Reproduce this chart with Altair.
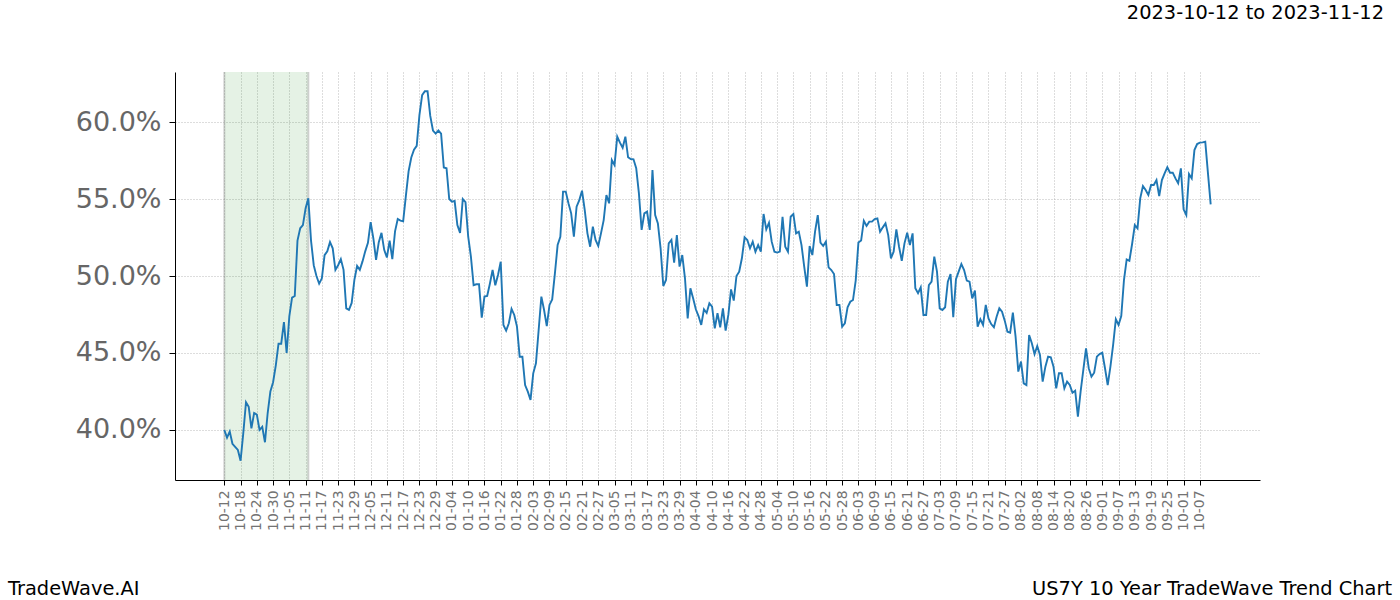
import altair as alt
import pandas as pd

# ---- data (daily values, percent) ----
start_date = "2023-10-12"
values = [
    40.0, 39.5, 39.9, 39.1, 38.9, 38.7, 38.0, 39.8, 41.8, 41.5,
    40.1, 41.1, 41.0, 40.0, 40.2, 39.2, 41.1, 42.5, 43.1, 44.2,
    45.6, 45.6, 47.0, 45.0, 47.4, 48.6, 48.7, 52.3, 53.1, 53.3,
    54.4, 55.05, 52.3, 50.7, 50.0, 49.5, 49.85, 51.35, 51.6, 52.2,
    51.8, 50.4, 50.7, 51.1, 50.4, 47.9, 47.8, 48.25, 49.75, 50.65,
    50.4, 50.95, 51.6, 52.15, 53.5, 52.45, 51.05, 52.2, 52.8, 51.7,
    51.2, 52.3, 51.1, 52.9, 53.7, 53.6, 53.55, 55.2, 56.8, 57.7,
    58.2, 58.45, 60.45, 61.75, 62.0, 62.0, 60.4, 59.45, 59.25, 59.45,
    59.25, 57.05, 57.0, 55.0, 54.83, 54.87, 53.31, 52.8, 55.0, 54.8,
    52.55, 51.26, 49.4, 49.46, 49.46, 47.3, 48.66, 48.7, 49.5, 50.39,
    49.4, 50.07, 50.93, 46.82, 46.45, 46.93, 47.86, 47.47, 46.71, 44.76,
    44.76, 42.92, 42.49, 41.95, 43.68, 44.33, 46.49, 48.66, 47.79, 46.75,
    48.12, 48.48, 50.17, 52.01, 52.55, 55.48, 55.48, 54.72, 54.07, 52.55,
    54.5, 54.93, 55.54, 54.29, 52.77, 51.9, 53.2, 52.34, 51.95, 52.77,
    53.63, 55.26, 54.72, 57.53, 57.21, 59.05, 58.66, 58.33, 59.05, 57.71,
    57.6, 57.58, 57.0, 55.37, 52.99, 54.07, 54.18, 52.99, 56.88, 53.96,
    53.42, 51.8, 49.35, 49.74, 52.12, 52.34, 50.87, 52.66, 50.61, 51.36,
    49.85, 47.25, 49.2, 48.55, 47.84, 47.4, 46.82, 47.84, 47.6, 48.23,
    48.01, 46.6, 47.58, 46.67, 47.9, 46.45, 47.47, 49.13, 48.4, 50.0,
    50.28, 51.15, 52.51, 52.34, 51.8, 52.23, 51.58, 52.01, 51.58, 54.03,
    53.03, 53.46, 52.23, 51.58, 51.52, 51.58, 53.85, 51.9, 51.58, 53.85,
    54.03, 52.77, 52.88, 52.01, 50.61, 49.31, 51.95, 51.36, 52.88, 53.96,
    52.17, 51.95, 52.23, 50.56, 50.39, 50.13, 48.12, 48.12, 46.71, 46.93,
    47.97, 48.33, 48.44, 49.7, 52.17, 52.3, 53.59, 53.25, 53.53, 53.53,
    53.7, 53.74, 52.88, 53.16, 53.42, 52.66, 51.15, 51.58, 53.03, 51.9,
    50.99, 52.12, 52.81, 52.01, 52.77, 49.2, 48.88, 49.26, 47.47, 47.47,
    49.41, 49.63, 51.26, 50.28, 47.9, 47.79, 47.97, 49.63, 50.13, 47.32,
    49.8, 50.28, 50.78, 50.39, 49.7, 49.63, 48.55, 49.05, 46.71, 47.19,
    46.82, 48.12, 47.25, 46.88, 46.67, 47.36, 47.9, 47.68, 47.1, 46.38,
    46.32, 47.62, 46.06, 43.79, 44.44, 43.03, 42.92, 46.17, 45.63, 44.93,
    45.45, 44.87, 43.14, 44.11, 44.76, 44.72, 44.11, 42.7, 43.68, 43.68,
    42.7, 43.14, 42.92, 42.42, 42.55, 40.87, 42.49, 43.9, 45.3, 44.01,
    43.46, 43.72, 44.76, 44.93, 45.02, 44.01, 42.92, 44.11, 45.52, 47.19,
    46.82, 47.4, 49.74, 51.08, 50.99, 52.08, 53.31, 53.09, 55.04, 55.84,
    55.58, 55.26, 55.91, 55.91, 56.23, 55.19, 56.23, 56.67, 57.06, 56.71,
    56.71, 56.34, 56.02, 56.99, 54.33, 53.96, 56.62, 56.34, 58.18, 58.57,
    58.66, 58.68, 58.72, 56.67, 54.65,
]
highlight_start = ["2023-10-12"]
highlight_end = ["2023-11-12"]
y_ticks = [40, 45, 50, 55, 60]
x_tick_dates = pd.date_range("2023-10-12", "2024-10-07", freq="6D")
x_domain = [alt.DateTime(year=2023, month=9, date=23, hours=19, minutes=12),
            alt.DateTime(year=2024, month=10, date=28, hours=4, minutes=48)]
y_domain = [36.75, 63.25]
title_text = "2023-10-12 to 2023-11-12"
footer_left = "TradeWave.AI"
footer_right = "US7Y 10 Year TradeWave Trend Chart"

FONT = "DejaVu Sans"

df = pd.DataFrame({"date": pd.date_range(start_date, periods=len(values), freq="D"),
                   "value": values})
band_df = pd.DataFrame({"date": pd.to_datetime(highlight_start),
                        "date2": pd.to_datetime(highlight_end)})
edge_df = pd.DataFrame({"date": pd.to_datetime(highlight_start + highlight_end)})

x_scale = alt.Scale(domain=x_domain)
x_axis = alt.Axis(
    values=[alt.DateTime(year=d.year, month=d.month, date=d.day) for d in x_tick_dates],
    tickCount=500,
    # the source labels skip Feb 29 (ticks every 6 observations)
    labelExpr=("timeFormat(time(datum.value) >= time(datetime(2024, 1, 29)) ? "
               "time(datum.value) + 86400000 : time(datum.value), '%m-%d')"),
    labelAngle=270, labelFontSize=13.9, labelColor="#737373",
    labelFont=FONT, labelOverlap=False, labelFlush=False, labelPadding=5,
    tickSize=5, tickColor="black", domainColor="black", domainWidth=1,
    grid=True, gridDash=[1, 2], gridColor="#aaaaaa", gridWidth=0.8, title=None,
)
y_axis = alt.Axis(
    values=y_ticks, labelExpr="format(datum.value, '.1f') + '%'",
    labelFontSize=27, labelColor="#666666", labelFont=FONT, labelPadding=8,
    tickSize=6, tickColor="black", domainColor="black", domainWidth=1,
    grid=True, gridDash=[1, 2], gridColor="#aaaaaa", gridWidth=0.8, title=None,
)

band = alt.Chart(band_df).mark_rect(color="green", opacity=0.1).encode(
    x=alt.X("date:T", scale=x_scale, title=None), x2="date2:T")
edges = alt.Chart(edge_df).mark_rule(color="gray", opacity=0.35, strokeWidth=2).encode(
    x=alt.X("date:T", scale=x_scale, title=None))
line = alt.Chart(df).mark_line(color="#1f77b4", strokeWidth=1.9).encode(
    x=alt.X("date:T", scale=x_scale, axis=x_axis, title=None),
    y=alt.Y("value:Q", scale=alt.Scale(domain=y_domain, nice=False, zero=False),
            axis=y_axis, title=None),
)

def text_layer(txt, x, y, align):
    return alt.Chart(pd.DataFrame({"t": [txt]})).mark_text(
        align=align, baseline="alphabetic", fontSize=19.4, font=FONT, color="black"
    ).encode(text="t:N", x=alt.value(x), y=alt.value(y))

title_l = text_layer(title_text, 1209, -53, "right")
foot_l = text_layer(footer_left, -167, 523, "left")
foot_r = text_layer(footer_right, 1217, 523, "right")

chart = alt.layer(band, edges, line, title_l, foot_l, foot_r).properties(
    width=1085, height=408,
    autosize=alt.AutoSizeParams(type="none"),
    padding={"left": 175, "top": 72, "right": 140, "bottom": 120},
    background="white",
).configure_view(stroke=None)

chart.save("out.html", embed_options={"renderer": "svg", "actions": False})
